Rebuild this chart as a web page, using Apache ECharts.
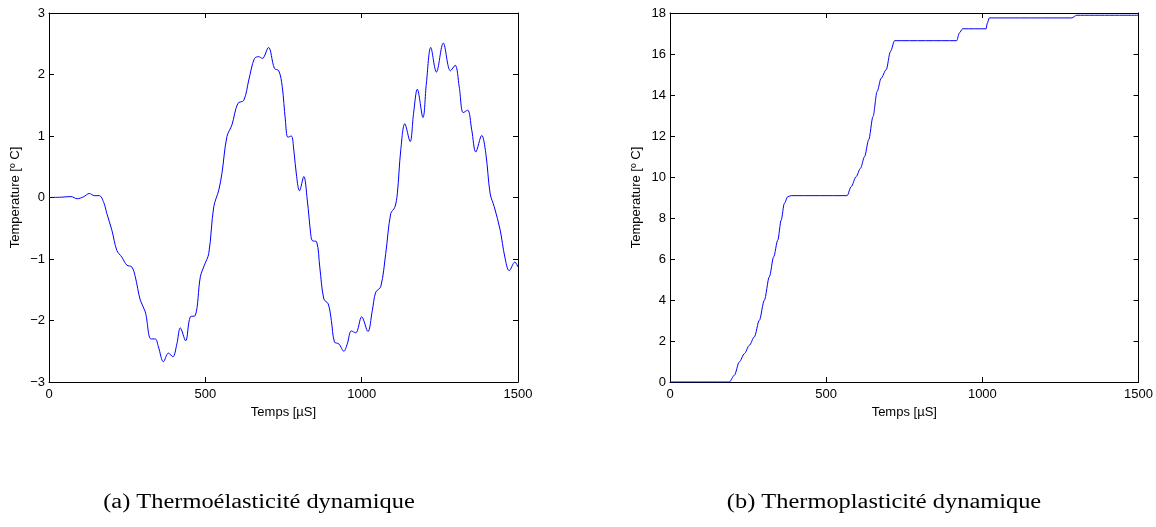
<!DOCTYPE html>
<html>
<head>
<meta charset="utf-8">
<script src="https://cdn.jsdelivr.net/npm/echarts@6/dist/echarts.min.js"></script>
<style>
html,body{margin:0;padding:0;background:#fff;}
#chart{width:1156px;height:527px;}
</style>
</head>
<body>
<div id="chart"></div>
<script>
// Panel (a): Thermoélasticité dynamique
const tA = [0, 40, 70, 90, 110, 129, 145, 161, 175, 185, 201, 217, 233, 249, 265, 276, 292, 308, 326, 340, 350, 366, 382, 396, 409, 420, 437, 452, 468, 484, 497, 511, 527, 543, 553, 569, 585, 604, 623, 639, 657, 671, 682, 702, 721, 735, 746, 756, 764, 775, 783, 792, 801, 815, 826, 837, 842, 856, 866, 879, 893, 903, 913, 927, 943, 954, 967, 981, 1000, 1020, 1034, 1045, 1061, 1077, 1093, 1106, 1114, 1125, 1138, 1155, 1166, 1178, 1196, 1207, 1221, 1239, 1261, 1284, 1299, 1312, 1325, 1339, 1352, 1365, 1384, 1397, 1411, 1424, 1443, 1458, 1472, 1490, 1500];
const vA = [0, 0.005, 0.015, -0.02, 0.01, 0.065, 0.03, 0.03, -0.08, -0.26, -0.53, -0.86, -0.97, -1.10, -1.13, -1.29, -1.67, -1.86, -2.30, -2.30, -2.43, -2.67, -2.53, -2.59, -2.38, -2.12, -2.33, -1.94, -1.92, -1.29, -1.10, -0.91, -0.15, 0.12, 0.39, 0.99, 1.18, 1.53, 1.58, 1.91, 2.26, 2.29, 2.26, 2.44, 2.10, 2.06, 1.80, 1.26, 0.98, 1.00, 0.77, 0.34, 0.11, 0.34, -0.04, -0.59, -0.70, -0.72, -1.13, -1.65, -1.73, -2.00, -2.35, -2.38, -2.50, -2.38, -2.17, -2.20, -1.94, -2.18, -1.84, -1.54, -1.45, -0.91, -0.26, -0.16, 0.06, 0.77, 1.20, 0.91, 1.37, 1.76, 1.30, 1.86, 2.44, 2.04, 2.51, 2.06, 2.15, 1.80, 1.38, 1.42, 1.10, 0.74, 1.01, 0.72, 0.06, -0.15, -0.53, -0.97, -1.19, -1.05, -1.13];

// Panel (b): Thermoplasticité dynamique
const tB = [0, 190, 206, 222, 238, 254, 270, 286, 302, 318, 332, 345, 356, 366, 377, 388, 567, 580, 596, 610, 623, 636, 650, 663, 676, 692, 706, 719, 918, 926, 937, 1012, 1016, 1022, 1286, 1302, 1500];
const vB = [0, 0, 0.33, 0.98, 1.38, 1.79, 2.20, 3.01, 3.99, 5.13, 6.11, 6.92, 7.90, 8.71, 9.04, 9.09, 9.09, 9.53, 10.02, 10.43, 11.0, 11.81, 12.95, 14.17, 14.82, 15.23, 16.13, 16.65, 16.65, 17.02, 17.23, 17.23, 17.51, 17.76, 17.76, 17.89, 17.89];

const captions = ['(a) Thermoélasticité dynamique', '(b) Thermoplasticité dynamique'];
const xName = 'Temps [\u00b5S]';
const yName = 'Temperature [\u00ba C]';

const pairs = (t, v) => t.map((x, i) => [x, v[i]]);
const font = 'Liberation Sans, Arial, sans-serif';
const serif = 'Liberation Serif, Times New Roman, serif';
const minusFmt = v => String(v).replace('-', '\u2212');
const LINE = {show: true, onZero: false, lineStyle: {color: '#000', width: 1}};
const TICK = {show: true, inside: true, length: 5, lineStyle: {color: '#000', width: 1}};

function bottomX(gi) {
  return {
    type: 'value', gridIndex: gi, position: 'bottom', min: 0, max: 1500, interval: 500,
    name: xName, nameLocation: 'middle', nameGap: 21,
    nameTextStyle: {fontFamily: font, fontSize: 13, color: '#000'},
    axisLine: LINE, axisTick: TICK,
    axisLabel: {fontFamily: font, fontSize: 13, color: '#000', margin: 6, formatter: v => String(v)},
    splitLine: {show: false}
  };
}
function topX(gi) {
  return {
    type: 'value', gridIndex: gi, position: 'top', min: 0, max: 1500, interval: 500,
    axisLine: LINE, axisTick: TICK, axisLabel: {show: false}, splitLine: {show: false}
  };
}
function leftY(gi, min, max, interval) {
  return {
    type: 'value', gridIndex: gi, position: 'left', min: min, max: max, interval: interval,
    name: yName, nameLocation: 'middle', nameGap: 27,
    nameTextStyle: {fontFamily: font, fontSize: 13, color: '#000'},
    axisLine: LINE, axisTick: TICK,
    axisLabel: {fontFamily: font, fontSize: 13, color: '#000', margin: 4, formatter: minusFmt},
    splitLine: {show: false}
  };
}
function rightY(gi, min, max, interval) {
  return {
    type: 'value', gridIndex: gi, position: 'right', min: min, max: max, interval: interval,
    axisLine: LINE, axisTick: TICK, axisLabel: {show: false}, splitLine: {show: false}
  };
}

const chart = echarts.init(document.getElementById('chart'), null, {renderer: 'canvas'});
chart.setOption({
  backgroundColor: '#fff',
  animation: false,
  grid: [
    {left: 49, top: 13, width: 469, height: 369},
    {left: 670, top: 13, width: 469, height: 369}
  ],
  xAxis: [bottomX(0), topX(0), bottomX(1), topX(1)],
  yAxis: [leftY(0, -3, 3, 1), rightY(0, -3, 3, 1), leftY(1, 0, 18, 2), rightY(1, 0, 18, 2)],
  series: [
    {type: 'line', xAxisIndex: 0, yAxisIndex: 0, data: pairs(tA, vA), smooth: 0.35,
     showSymbol: false, lineStyle: {color: '#0000ff', width: 1}},
    {type: 'line', xAxisIndex: 2, yAxisIndex: 2, data: pairs(tB, vB), smooth: 0.3, smoothMonotone: 'x',
     showSymbol: false, lineStyle: {color: '#0000ff', width: 1}}
  ],
  graphic: [
    {type: 'text', x: 259, y: 503, scaleX: 1.22, style: {text: captions[0], fontFamily: serif, fontSize: 20, fill: '#000', align: 'center', verticalAlign: 'middle'}},
    {type: 'text', x: 884, y: 503, scaleX: 1.22, style: {text: captions[1], fontFamily: serif, fontSize: 20, fill: '#000', align: 'center', verticalAlign: 'middle'}}
  ]
});
</script>
</body>
</html>
